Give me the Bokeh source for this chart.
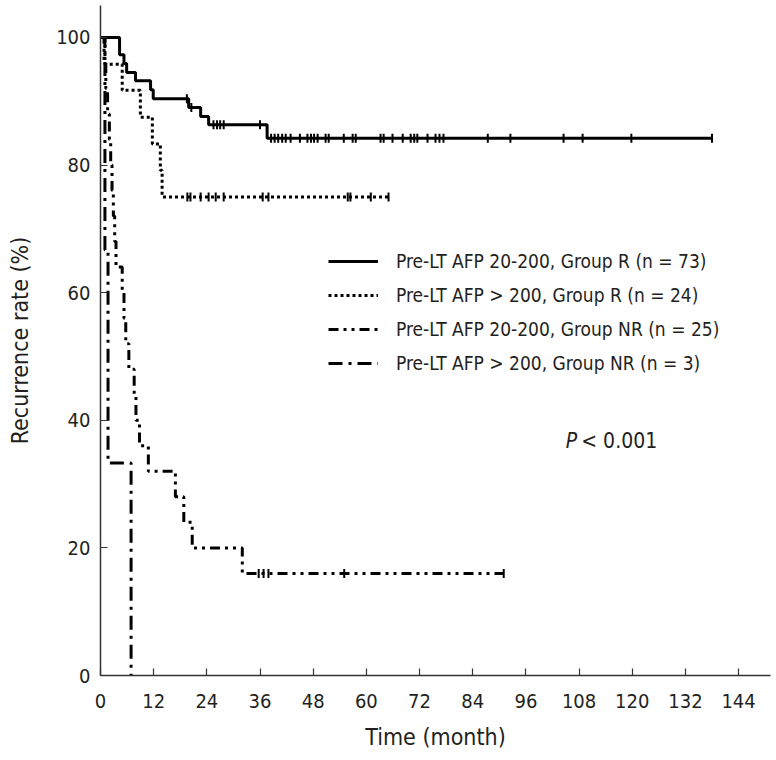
from bokeh.plotting import figure
from bokeh.models import Range1d, FixedTicker, Legend, LegendItem, Title
from bokeh.core.properties import value
from bokeh.embed import file_html
from bokeh.resources import INLINE
import math

FONT = "DejaVu Sans Condensed"
TXT = "#231f20"

# ---- data (months, recurrence-free %) ----
r_low_t = [0, 4.3, 5.3, 5.9, 7.9, 11.3, 11.9, 19.9, 22.6, 24.4, 37.6]
r_low_s = [100, 97.3, 95.9, 94.5, 93.2, 91.8, 90.4, 89.0, 87.6, 86.3, 84.2]
r_low_end = 138.0
r_low_cens = [19.5, 20.5, 25.5, 26.3, 27.0, 27.8, 36.0, 38.5, 39.3, 40.1, 41.0, 41.8,
              42.9, 45.0, 46.7, 47.5, 48.2, 49.0, 50.8, 51.5, 54.9, 56.9, 57.6, 63.2,
              63.9, 65.9, 68.2, 70.0, 70.8, 71.5, 73.8, 75.6, 76.5, 77.4, 87.4, 92.5,
              104.5, 108.8, 119.8, 138.0]

r_high_t = [0, 1.0, 4.9, 9.0, 11.7, 13.5, 13.9]
r_high_s = [100, 95.8, 91.7, 87.5, 83.3, 79.2, 75.0]
r_high_end = 65.0
r_high_cens = [19.6, 20.3, 22.6, 24.4, 26.0, 27.8, 36.6, 37.9, 55.8, 56.4, 61.0, 65.0]

nr_low_t = [0, 0.8, 1.2, 1.6, 2.0, 2.3, 2.6, 2.9, 3.2, 3.5, 4.9, 5.3, 5.7, 6.4, 7.6,
            8.0, 8.8, 10.8, 16.9, 18.8, 20.7, 32.0]
nr_low_s = [100, 96, 92, 88, 84, 80, 76, 72, 68, 64, 60, 56, 52, 48, 44, 40, 36, 32,
            28, 24, 20, 16]
nr_low_end = 91.0
nr_low_cens = [35.7, 36.8, 37.9, 55.0, 91.0]

nr_high_t = [0, 1.0, 1.7, 6.9]
nr_high_s = [100, 66.7, 33.3, 0]
nr_high_end = 6.9

labels = ["Pre-LT AFP 20-200, Group R (n = 73)",
          "Pre-LT AFP > 200, Group R (n = 24)",
          "Pre-LT AFP 20-200, Group NR (n = 25)",
          "Pre-LT AFP > 200, Group NR (n = 3)"]
x_ticks = [0, 12, 24, 36, 48, 60, 72, 84, 96, 108, 120, 132, 144]
y_ticks = [0, 20, 40, 60, 80, 100]

p = figure(width=772, height=760, output_backend="svg", toolbar_location=None,
           x_range=Range1d(0, 151.2), y_range=Range1d(0, 105),
           min_border_left=100, min_border_right=2, min_border_top=5, min_border_bottom=85)
p.outline_line_color = None
p.grid.visible = False
p.background_fill_color = "white"

for ax in (p.xaxis[0], p.yaxis[0]):
    ax.axis_line_color = "#333333"
    ax.axis_line_width = 1.5
    ax.major_tick_in = 7
    ax.major_tick_out = 0
    ax.minor_tick_line_color = None
    ax.major_tick_line_color = "#333333"
    ax.major_tick_line_width = 1.2
    ax.major_label_text_font = FONT
    ax.major_label_text_font_size = "20px"
    ax.major_label_text_color = TXT
    ax.axis_label_text_font = FONT
    ax.axis_label_text_font_size = "23px"
    ax.axis_label_text_font_style = "normal"
    ax.axis_label_text_color = TXT

p.xaxis.ticker = FixedTicker(ticks=x_ticks)
p.yaxis.ticker = FixedTicker(ticks=y_ticks)
p.yaxis.axis_label = "Recurrence rate (%)"
p.xaxis.major_label_standoff = 18
p.yaxis.major_label_standoff = 10
p.yaxis.axis_label_standoff = 20

# x-axis title placed below the tick labels
p.add_layout(Title(text="Time (month)", align="center", offset=9, standoff=22,
                   text_font=FONT, text_font_size="23px", text_font_style="normal",
                   text_color=TXT), "below")


def level_at(ts, ss, x):
    v = ss[0]
    for t, s in zip(ts, ss):
        if t <= x:
            v = s
    return v


def curve(ts, ss, end, dash, width):
    xs = list(ts) + [end]
    ys = list(ss) + [ss[-1]]
    return p.step(xs, ys, mode="after", line_color="black", line_width=width,
                  line_dash=dash)


def censors(ts, ss, cs):
    ys = [level_at(ts, ss, c) for c in cs]
    p.scatter(cs, ys, marker="dash", angle=math.pi / 2, size=9, line_color="black",
              line_width=2)


r1 = curve(r_low_t, r_low_s, r_low_end, "solid", 3)
censors(r_low_t, r_low_s, r_low_cens)
r2 = curve(r_high_t, r_high_s, r_high_end, "3 3", 3)
censors(r_high_t, r_high_s, r_high_cens)
r3 = curve(nr_low_t, nr_low_s, nr_low_end, "10 5 3 5 3 5", 3)
censors(nr_low_t, nr_low_s, nr_low_cens)
r4 = curve(nr_high_t, nr_high_s, nr_high_end, "14 6 3 6", 3)

legend = Legend(items=[LegendItem(label=labels[0], renderers=[r1]),
                       LegendItem(label=labels[1], renderers=[r2]),
                       LegendItem(label=labels[2], renderers=[r3]),
                       LegendItem(label=labels[3], renderers=[r4])],
                location=(228, 301), glyph_width=50, glyph_height=20,
                label_standoff=18, spacing=12, padding=0, margin=0,
                border_line_color=None, background_fill_alpha=0,
                label_text_font=FONT, label_text_font_size="19px",
                label_text_color=TXT)
p.add_layout(legend, "center")

p.text(x=[105], y=[36.8], text=["P"], text_font=value(FONT), text_font_size="21px",
       text_font_style="italic", text_color=TXT, text_baseline="middle")
p.text(x=[108.5], y=[36.8], text=["< 0.001"], text_font=value(FONT),
       text_font_size="21px", text_color=TXT, text_baseline="middle")

open("out.html", "w").write(file_html(p, INLINE))
